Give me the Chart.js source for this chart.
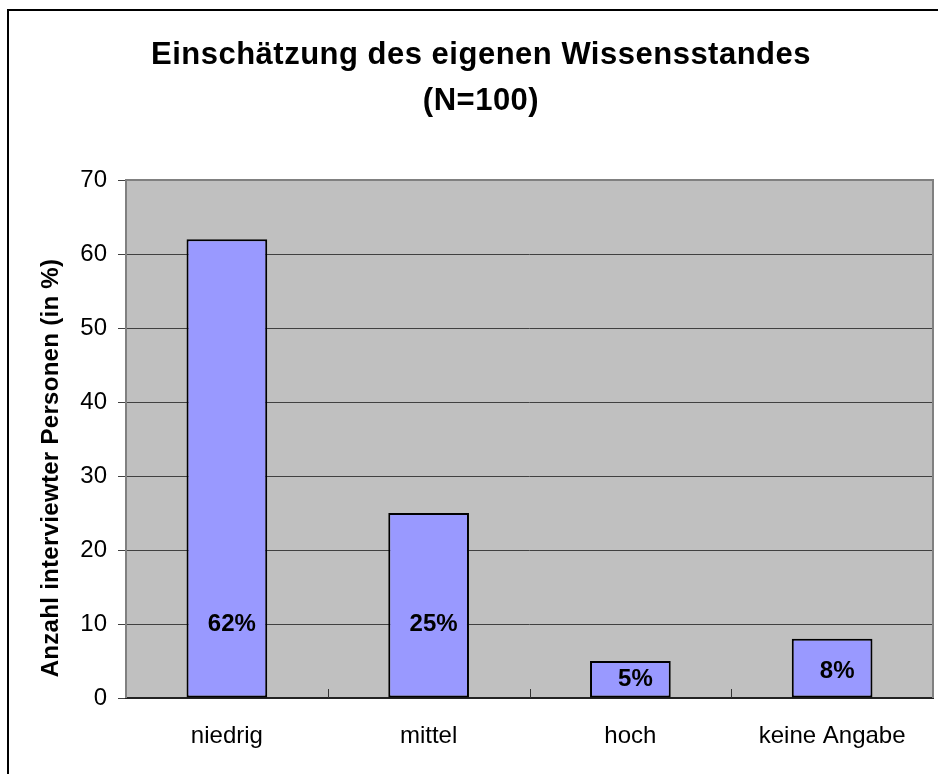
<!DOCTYPE html>
<html>
<head>
<meta charset="utf-8">
<script src="https://cdn.jsdelivr.net/npm/chart.js@4"></script>
<style>
  html,body{margin:0;padding:0;background:#fff;}
  #wrap{position:relative;width:938px;height:774px;}
</style>
</head>
<body>
<div id="wrap"><canvas id="chart" width="938" height="774"></canvas></div>
<script>
const categories = ["niedrig","mittel","hoch","keine Angabe"];
const values = [62,25,5,8];
const valueLabels = ["62%","25%","5%","8%"];
const labelAt = [10,10,2.5,3.6];
const yTicks = [0,10,20,30,40,50,60,70];
const titleLines = ["Einschätzung des eigenen Wissensstandes","(N=100)"];
const yTitle = "Anzahl interviewter Personen (in %)";

const FONT = "'Liberation Sans', Arial, sans-serif";

// plot background, frame, title, axis title
const decor = {
  id:"decor",
  beforeDraw(chart){
    const {ctx,chartArea:a} = chart;
    ctx.save();
    ctx.fillStyle = "#fff";
    ctx.fillRect(0,0,chart.width,chart.height);
    ctx.fillStyle = "#c0c0c0";
    ctx.fillRect(a.left,a.top,a.right-a.left,a.bottom-a.top);

    // outer frame (top + left only)
    ctx.strokeStyle = "#000";
    ctx.lineWidth = 2;
    ctx.beginPath();
    ctx.moveTo(8,chart.height);
    ctx.lineTo(8,10);
    ctx.lineTo(chart.width,10);
    ctx.stroke();

    ctx.fillStyle = "#000";
    ctx.font = "bold 31px "+FONT;
    ctx.letterSpacing = "0.5px";
    ctx.textAlign = "center";
    ctx.textBaseline = "alphabetic";
    ctx.fillText(titleLines[0],481,64);
    ctx.fillText(titleLines[1],481,110);

    ctx.translate(51,468);
    ctx.rotate(-Math.PI/2);
    ctx.font = "bold 24px "+FONT;
    ctx.letterSpacing = "0.3px";
    ctx.textBaseline = "middle";
    ctx.fillText(yTitle,0,0);
    ctx.restore();
  },
  beforeDatasetsDraw(chart){
    const {ctx,chartArea:a} = chart;
    const x = chart.scales.x;
    ctx.save();
    ctx.strokeStyle = "#808080";
    ctx.lineWidth = 2;
    ctx.beginPath();
    ctx.moveTo(a.left,a.bottom);
    ctx.lineTo(a.left,a.top);
    ctx.lineTo(a.right,a.top);
    ctx.lineTo(a.right,a.bottom);
    ctx.stroke();
    // inward tick marks between categories
    ctx.strokeStyle = "#333";
    ctx.lineWidth = 1;
    for(let i=0;i<categories.length-1;i++){
      const px = Math.round((x.getPixelForValue(i)+x.getPixelForValue(i+1))/2)+0.5;
      ctx.beginPath();
      ctx.moveTo(px,a.bottom);
      ctx.lineTo(px,a.bottom-9);
      ctx.stroke();
    }
    ctx.restore();
  },
  afterDatasetsDraw(chart){
    const {ctx} = chart;
    const meta = chart.getDatasetMeta(0);
    const y = chart.scales.y;
    ctx.save();
    ctx.fillStyle = "#000";
    ctx.font = "bold 24px "+FONT;
    ctx.textAlign = "center";
    ctx.textBaseline = "middle";
    meta.data.forEach((bar,i)=>{
      ctx.fillText(valueLabels[i],bar.x+5,y.getPixelForValue(labelAt[i]));
    });
    ctx.restore();
  }
};

new Chart(document.getElementById("chart"),{
  type:"bar",
  data:{
    labels:categories,
    datasets:[{
      data:values,
      backgroundColor:"#9999ff",
      borderColor:"#000",
      borderWidth:2,
      borderSkipped:false,
      categoryPercentage:1,
      barPercentage:0.4
    }]
  },
  options:{
    responsive:false,
    animation:false,
    layout:{padding:{top:180,right:5,left:0,bottom:0}},
    plugins:{legend:{display:false},tooltip:{enabled:false},title:{display:false}},
    scales:{
      x:{
        grid:{display:false,drawTicks:false},
        border:{display:true,color:"#222",width:2},
        ticks:{color:"#000",font:{family:FONT,size:24},padding:24,maxRotation:0},
        afterFit(s){ s.height = 76; }
      },
      y:{
        min:0,max:70,
        afterBuildTicks(s){ s.ticks = yTicks.map(v=>({value:v})); },
        grid:{color:"#404040",lineWidth:1,tickLength:8,drawTicks:true},
        border:{display:false},
        ticks:{color:"#000",font:{family:FONT,size:24},padding:11},
        afterFit(s){ s.width = 126; }
      }
    }
  },
  plugins:[decor]
});
</script>
</body>
</html>
